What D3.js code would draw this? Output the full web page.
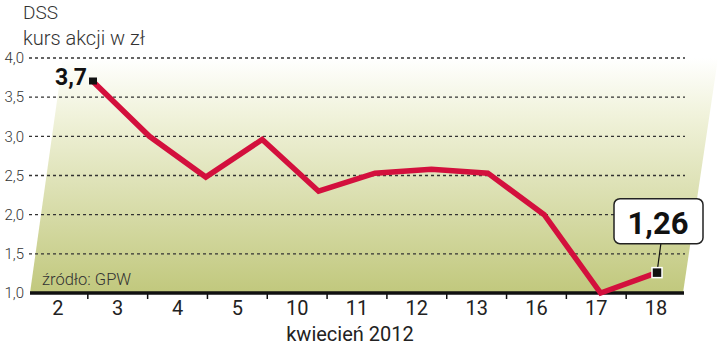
<!DOCTYPE html>
<html>
<head>
<meta charset="utf-8">
<script src="https://cdn.jsdelivr.net/npm/d3@7"></script>
<style>
	body { margin: 0; background: #fff; }
	svg { display: block; font-family: Roboto, 'DejaVu Sans', sans-serif; }
</style>
</head>
<body>
<svg width="720" height="347"></svg>
<script>
// dni kwietnia 2012 i kurs akcji DSS
var days = ['2', '3', '4', '5', '10', '11', '12', '13', '16', '17', '18'];
var prices = [3.7, 3.0, 2.48, 2.96, 2.30, 2.53, 2.58, 2.53, 2.0, 1.0, 1.26];
var yTicks = [1.0, 1.5, 2.0, 2.5, 3.0, 3.5, 4.0];

var svg = d3.select('svg'),
	margin = { top: 58, left: 28, right: 34, bottom: 54 },
	width = +svg.attr('width') - margin.left - margin.right,
	height = +svg.attr('height') - margin.top - margin.bottom;

var x = d3.scaleBand().domain(days).range([0, width]),
	xLine = d3.scalePoint().domain(days).range([65, 629]),
	y = d3.scaleLinear().domain([1, 4]).range([height, 0]);

var fmt = function(d) {
	return d.toFixed(d * 10 % 1 === 0 ? 1 : 2).replace('.', ',');
};

var defs = svg.append('defs');
var grad = defs.append('linearGradient')
	.attr('id', 'bg')
	.attr('x1', 0).attr('y1', 0).attr('x2', 0).attr('y2', 1);
grad.append('stop').attr('offset', '0%').attr('stop-color', '#ffffff');
grad.append('stop').attr('offset', '25%').attr('stop-color', '#f0f2da');
grad.append('stop').attr('offset', '100%').attr('stop-color', '#c1c87d');

var g = svg.append('g')
	.attr('transform', 'translate(' + margin.left + ',' + margin.top + ')');

// tło - skośny równoległobok
g.append('path')
	.attr('fill', 'url(#bg)')
	.attr('d', 'M' + 2 + ',' + y(1) + 'L' + (width - 3) + ',' + y(1) +
		'L' + (width + 32) + ',' + y(4) + 'L' + 35 + ',' + y(4) + 'Z');

// linie siatki
g.selectAll('.grid')
	.data(yTicks.filter(function(d) { return d > 1; }))
	.enter().append('line')
	.attr('class', 'grid')
	.attr('x1', 1).attr('x2', width - 1)
	.attr('y1', function(d) { return y(d); })
	.attr('y2', function(d) { return y(d); })
	.attr('stroke', '#333')
	.attr('stroke-width', 1.3)
	.attr('stroke-dasharray', '3,3');

// os Y
var yAxis = g.append('g')
	.call(d3.axisLeft(y).tickValues(yTicks).tickSize(0).tickPadding(4).tickFormat(fmt));
yAxis.select('.domain').remove();
yAxis.selectAll('text')
	.attr('font-size', 15)
	.attr('font-weight', 300)
	.attr('fill', '#333')
	.attr('font-family', 'Roboto, sans-serif');

// os X
var xAxis = g.append('g')
	.attr('transform', 'translate(0,' + height + ')')
	.call(d3.axisBottom(x).tickSize(0).tickPadding(8));
xAxis.select('.domain').remove();
xAxis.selectAll('text')
	.attr('font-size', 20)
	.attr('fill', '#222')
	.attr('font-family', 'Roboto, sans-serif');

g.selectAll('.xtick')
	.data(days.slice(1))
	.enter().append('line')
	.attr('class', 'xtick')
	.attr('x1', function(d) { return x(d); })
	.attr('x2', function(d) { return x(d); })
	.attr('y1', height)
	.attr('y2', height + 6)
	.attr('stroke', '#111')
	.attr('stroke-width', 1.5);

g.append('line')
	.attr('x1', 2).attr('x2', width - 2)
	.attr('y1', height).attr('y2', height)
	.attr('stroke', '#111')
	.attr('stroke-width', 3.5);

// linia kursu
var line = d3.line()
	.x(function(d, i) { return xLine(days[i]); })
	.y(function(d) { return y(d); });

g.append('path')
	.datum(prices)
	.attr('d', line)
	.attr('fill', 'none')
	.attr('stroke', '#d3103d')
	.attr('stroke-width', 5.5)
	.attr('stroke-linejoin', 'miter');

// znaczniki pierwszej i ostatniej wartosci
var firstX = xLine(days[0]), firstY = y(prices[0]);
var last = prices.length - 1;
var lastX = xLine(days[last]), lastY = y(prices[last]);

g.append('rect')
	.attr('x', firstX - 4).attr('y', firstY - 4)
	.attr('width', 8).attr('height', 7)
	.attr('fill', '#111');

g.append('text')
	.attr('x', firstX - 6).attr('y', firstY + 3)
	.attr('text-anchor', 'end')
	.attr('font-size', 23)
	.attr('font-weight', 'bold')
	.attr('fill', '#111')
	.text(fmt(prices[0]));

// dymek 1,26
g.append('line')
	.attr('x1', lastX).attr('y1', lastY)
	.attr('x2', lastX + 4).attr('y2', lastY - 30)
	.attr('stroke', '#111')
	.attr('stroke-width', 1.2);

g.append('rect')
	.attr('x', lastX - 43).attr('y', lastY - 74)
	.attr('width', 89).attr('height', 45)
	.attr('rx', 6)
	.attr('fill', '#fff')
	.attr('stroke', '#222')
	.attr('stroke-width', 1.5);

g.append('text')
	.attr('x', lastX + 1).attr('y', lastY - 39)
	.attr('text-anchor', 'middle')
	.attr('font-size', 31)
	.attr('font-weight', 'bold')
	.attr('fill', '#111')
	.text(fmt(prices[last]));

g.append('rect')
	.attr('x', lastX - 5).attr('y', lastY - 5)
	.attr('width', 10).attr('height', 10)
	.attr('fill', '#111')
	.attr('stroke', '#fff')
	.attr('stroke-width', 1.5);

// teksty
svg.append('text')
	.attr('x', 23).attr('y', 19)
	.attr('font-size', 19)
	.attr('font-weight', 300)
	.attr('fill', '#333')
	.text('DSS');

svg.append('text')
	.attr('x', 23).attr('y', 45)
	.attr('font-size', 20)
	.attr('font-weight', 300)
	.attr('fill', '#333')
	.text('kurs akcji w zł');

svg.append('text')
	.attr('x', 42).attr('y', 285)
	.attr('font-size', 16.5)
	.attr('font-weight', 300)
	.attr('fill', '#333')
	.text('źródło: GPW');

svg.append('text')
	.attr('x', margin.left + width / 2 - 7).attr('y', 341)
	.attr('text-anchor', 'middle')
	.attr('font-size', 20)
	.attr('fill', '#222')
	.text('kwiecień 2012');
</script>
</body>
</html>
